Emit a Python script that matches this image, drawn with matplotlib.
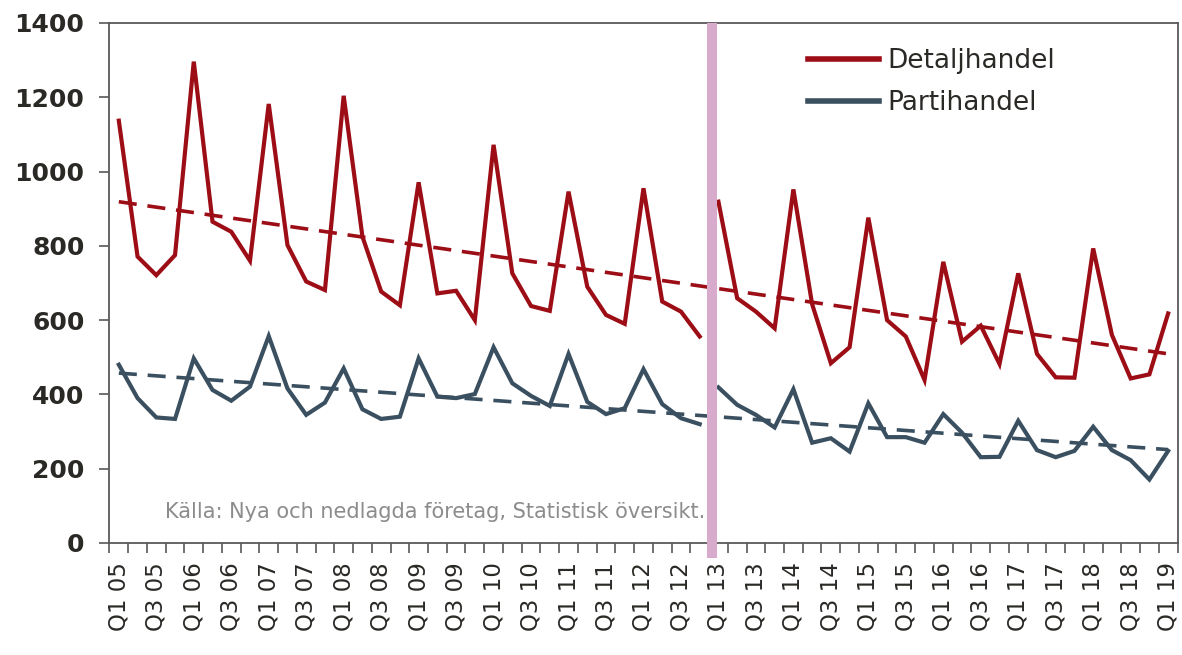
import numpy as np
import matplotlib
matplotlib.use("Agg")
import matplotlib.pyplot as plt
from matplotlib.ticker import FixedLocator

years = ['05', '06', '07', '08', '09', '10', '11', '12', '13', '14', '15', '16', '17', '18', '19']
quarters = [f'Q{q} {y}' for y in years for q in range(1, 5)][:57]

detaljhandel = [1137, 771, 721, 775,
                1296, 865, 838, 760,
                1182, 802, 704, 681,
                1204, 825, 677, 640,
                971, 672, 679, 600,
                1072, 726, 638, 625,
                946, 690, 614, 590,
                955, 650, 623, 556,
                919, 659, 623, 578,
                952, 643, 484, 527,
                876, 600, 556, 439,
                757, 542, 585, 482,
                726, 509, 446, 445,
                793, 560, 443, 454,
                618]

partihandel = [480, 390, 338, 334,
               497, 412, 383, 421,
               557, 416, 345, 378,
               470, 360, 334, 340,
               497, 394, 390, 401,
               527, 430, 396, 369,
               509, 380, 347, 363,
               468, 374, 336, 320,
               419, 372, 345, 311,
               414, 270, 282, 246,
               376, 285, 285, 270,
               347, 297, 231, 232,
               329, 250, 231, 248,
               313, 250, 223, 171,
               248]

series_names = ['Detaljhandel', 'Partihandel']
source = 'Källa: Nya och nedlagda företag, Statistisk översikt.'
break_index = 32  # first quarter after the break (Q1 13)

RED = '#9c0d16'
BLUE = '#3a5060'
PINK = '#d8aacc'
TEXT = '#2b2926'
AXIS = '#595959'

plt.rcParams['font.family'] = ['DejaVu Sans']

fig = plt.figure(figsize=(11.82, 6.55), dpi=100)
ax = fig.add_axes([0.0926, 0.171, 0.9036, 0.7939])

x = np.arange(len(quarters))
for vals, col, name in [(detaljhandel, RED, series_names[0]), (partihandel, BLUE, series_names[1])]:
    v = np.array(vals, dtype=float)
    ax.plot(x[:break_index], v[:break_index], color=col, lw=3.0, solid_joinstyle='miter', label=name, zorder=3)
    ax.plot(x[break_index:], v[break_index:], color=col, lw=3.0, solid_joinstyle='miter', zorder=3)
    # linear trend over the whole period
    k, m = np.polyfit(x, v, 1)
    ax.plot(x, k * x + m, color=col, lw=2.6, dashes=(5, 3), zorder=2)

# vertical break marker
ax.plot([break_index - 0.35, break_index - 0.35], [1400, -40], color=PINK, lw=7.2,
        solid_capstyle='butt', clip_on=False, zorder=5)

ax.set_xlim(-0.5, len(quarters) - 0.5)
ax.set_ylim(0, 1400)
ax.set_yticks(np.arange(0, 1401, 200))

ax.set_xticks(x[::2])
ax.set_xticklabels(quarters[::2], rotation=90, fontsize=16.5, color=TEXT, va='top', ha='center')
ax.xaxis.set_minor_locator(FixedLocator(np.arange(-0.5, len(quarters), 1.0)))
ax.tick_params(axis='x', which='major', length=0, pad=14)
ax.tick_params(axis='x', which='minor', length=7, width=1.2, color=AXIS)
ax.tick_params(axis='y', length=7, width=1.2, color=AXIS, pad=11, labelsize=18, labelcolor=TEXT)
for lab in ax.get_yticklabels():
    lab.set_fontweight('bold')

for s in ax.spines.values():
    s.set_color(AXIS)
    s.set_linewidth(1.3)

leg = ax.legend(loc='upper left', bbox_to_anchor=(0.654, 0.952), frameon=False,
                fontsize=19, handlelength=2.7, handletextpad=0.3, labelspacing=0.62,
                borderpad=0, borderaxespad=0)
for t in leg.get_texts():
    t.set_color(TEXT)
for h in leg.get_lines():
    h.set_linewidth(4)

ax.text(0.052, 0.06, source, transform=ax.transAxes, fontsize=15, color='#8c8c8c',
        va='center', ha='left', zorder=4)

fig.savefig('out.png', dpi=100)
